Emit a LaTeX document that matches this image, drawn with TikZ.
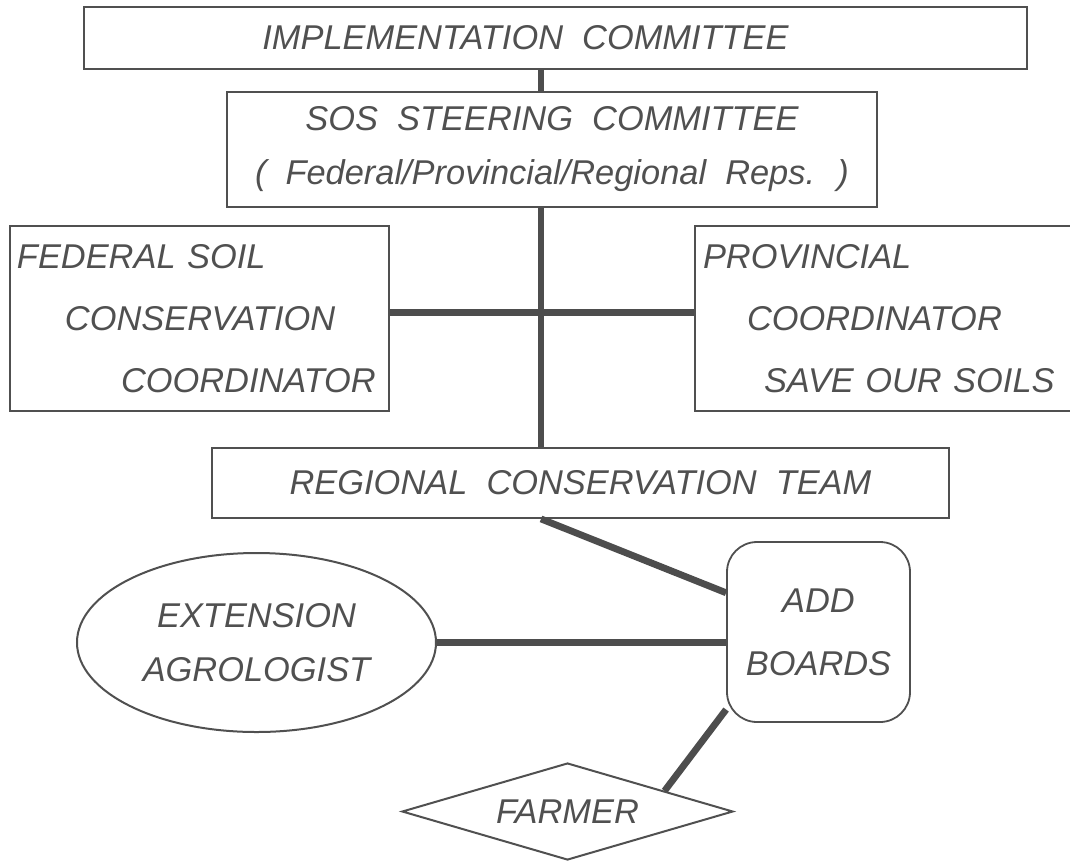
\documentclass[tikz,border=0pt]{standalone}
\usepackage{fontspec}
\setmainfont{Liberation Sans}[WordSpace=2]
\usepackage{tikz}
\usetikzlibrary{positioning,shapes.geometric}

\definecolor{ink}{HTML}{505050}
\definecolor{bar}{HTML}{4d4d4d}

\begin{document}
\begin{tikzpicture}[on grid,
  every node/.style={text=ink,font=\itshape\fontsize{17.2}{31}\selectfont},
  box/.style={draw=ink,line width=0.9pt,rectangle,inner sep=0pt},
  link/.style={draw=bar,line width=3.4pt}]
  \useasboundingbox (0,0) rectangle (535pt,-431.5pt);
  \clip (0,0) rectangle (535pt,-431.5pt);

  \node[box,minimum width=471.5pt,minimum height=31pt] (impl) at (277.75pt,-19pt) {\hspace*{-30pt}\raisebox{-1.5pt}{IMPLEMENTATION COMMITTEE}};
  \node[box,align=center,font=\itshape\fontsize{17.2}{27}\selectfont,minimum width=325pt,minimum height=57.5pt] (sos) [below left=55.75pt and 1.75pt of impl] {SOS STEERING COMMITTEE\\( Federal/Provincial/Regional Reps. )};
  \node[box,align=left,text width=182.5pt,inner xsep=3.5pt,minimum height=92.5pt] (fed) [below left=84.5pt and 176.25pt of sos] {FEDERAL SOIL\\\hspace*{24pt}CONSERVATION\\\hspace*{52pt}COORDINATOR};
  \node[box,align=left,text width=189.5pt,inner xsep=4pt,minimum height=92.5pt] (prov) [below right=84.5pt and 170.25pt of sos] {PROVINCIAL\\\hspace*{22pt}COORDINATOR\\\hspace*{30.5pt}SAVE OUR SOILS};
  \node[box,minimum width=368.5pt,minimum height=35pt] (reg) [below right=166.75pt and 14.25pt of sos] {REGIONAL CONSERVATION TEAM};
  \node[box,rounded corners=15pt,align=center,font=\itshape\fontsize{17.2}{31.5}\selectfont,minimum width=91.5pt,minimum height=90pt] (add) [below right=74.5pt and 119pt of reg] {ADD\\BOARDS};
  \node[draw=ink,line width=1pt,ellipse,inner sep=0pt,align=center,font=\itshape\fontsize{17.2}{27}\selectfont,minimum width=179.5pt,minimum height=89.5pt] (ext) [below left=79.75pt and 162pt of reg] {EXTENSION\\AGROLOGIST};
  \node[draw=ink,line width=1pt,diamond,aspect=3.4,inner sep=0pt,minimum width=165.5pt,minimum height=48.5pt] (farmer) [below left=164.25pt and 6.5pt of reg] {FARMER};

  % the trunk runs a little left of the centre of the steering committee
  \coordinate[left=5.5pt of sos.south] (spine);

  \draw[link] (impl.south -| spine) -- (sos.north -| spine);
  \draw[link] (spine) -- (reg.north -| spine);
  \draw[link] ([yshift=3pt]fed.east) -- ([yshift=3pt]prov.west);
  \draw[link] (reg.south -| spine) -- (add.157);
  \draw[link] (ext.east) -- (ext.east -| add.west);
  \draw[link] (add.220) -- (farmer.12);
\end{tikzpicture}
\end{document}
